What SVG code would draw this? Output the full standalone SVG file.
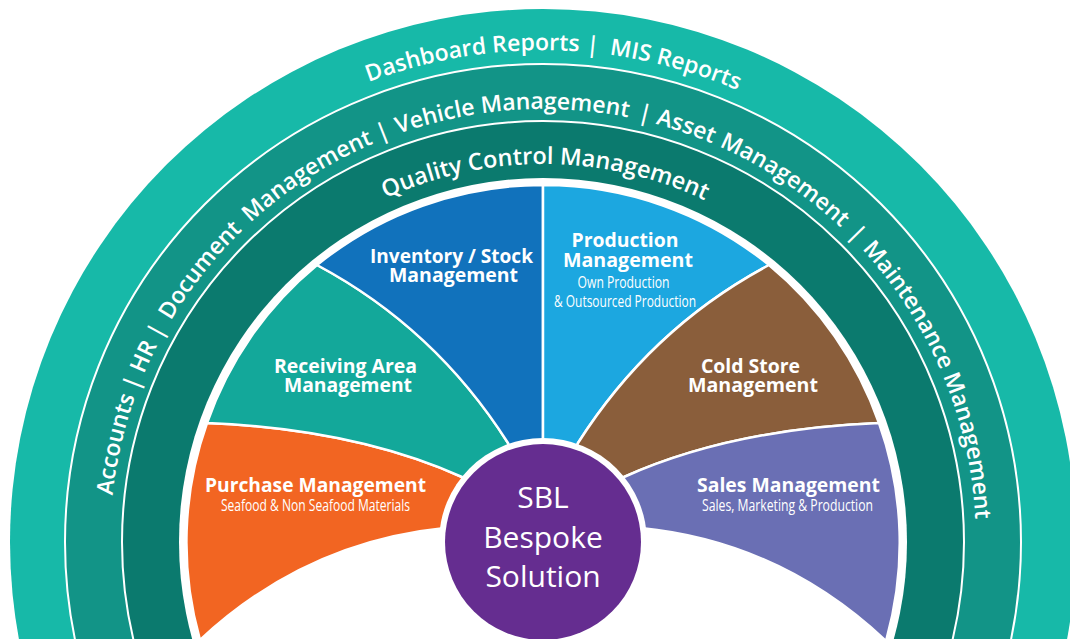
<svg xmlns="http://www.w3.org/2000/svg" width="1070" height="639" viewBox="0 0 1070 639">
<style>
  .ringtxt{font-family:"Open Sans","Noto Sans","DejaVu Sans",sans-serif;font-weight:600;fill:#fff;font-size:23px}
  .title{font-family:"Open Sans","Noto Sans","DejaVu Sans",sans-serif;font-weight:700;fill:#fff;text-anchor:middle;font-size:19.5px}
  .sub{font-weight:400;font-size:16px}
  .core{font-family:"Open Sans","Noto Sans","DejaVu Sans",sans-serif;font-weight:400;fill:#fff;text-anchor:middle;font-size:30px}
  .seg{stroke:#fff;stroke-width:2.5;stroke-linejoin:round}
</style>
<defs>
  <path id="arcOuter" d="M 51 542 A 492 492 0 0 1 1035 542"/>
  <path id="arcMid" d="M 110 542 A 433 433 0 0 1 976 542"/>
  <path id="arcInner" d="M 165 542 A 378 378 0 0 1 921 542"/>
</defs>
<rect width="1070" height="639" fill="#fff"/>
<g id="ring-outer">
  <circle cx="543" cy="542" r="533" fill="#17B9A8"/>
  <text class="ringtxt"><textPath href="#arcOuter" startOffset="701.6" text-anchor="middle">Dashboard Reports</textPath></text>
  <text class="ringtxt"><textPath href="#arcOuter" startOffset="821.8" text-anchor="middle">|</textPath></text>
  <text class="ringtxt"><textPath href="#arcOuter" startOffset="905.9" text-anchor="middle">MIS Reports</textPath></text>
</g>
<g id="ring-middle">
  <circle cx="543" cy="542" r="478" fill="#129487" stroke="#fff" stroke-width="2"/>
  <text class="ringtxt"><textPath href="#arcMid" startOffset="97.5" text-anchor="middle">Accounts</textPath></text>
  <text class="ringtxt"><textPath href="#arcMid" startOffset="188.2" text-anchor="middle">| HR |</textPath></text>
  <text class="ringtxt"><textPath href="#arcMid" startOffset="290.2" text-anchor="middle">Document</textPath></text>
  <text class="ringtxt"><textPath href="#arcMid" startOffset="432.3" text-anchor="middle">Management</textPath></text>
  <text class="ringtxt"><textPath href="#arcMid" startOffset="518.4" text-anchor="middle">|</textPath></text>
  <text class="ringtxt"><textPath href="#arcMid" startOffset="649.2" text-anchor="middle">Vehicle Management</textPath></text>
  <text class="ringtxt"><textPath href="#arcMid" startOffset="781.4" text-anchor="middle">|</textPath></text>
  <text class="ringtxt"><textPath href="#arcMid" startOffset="823.7" text-anchor="middle">Asset</textPath></text>
  <text class="ringtxt"><textPath href="#arcMid" startOffset="934.8" text-anchor="middle">Management</textPath></text>
  <text class="ringtxt"><textPath href="#arcMid" startOffset="1024" text-anchor="middle">|</textPath></text>
  <text class="ringtxt"><textPath href="#arcMid" startOffset="1110.9" text-anchor="middle">Maintenance</textPath></text>
  <text class="ringtxt"><textPath href="#arcMid" startOffset="1263.5" text-anchor="middle">Management</textPath></text>
</g>
<g id="ring-inner">
  <circle cx="543" cy="542" r="421" fill="#0B7A6E" stroke="#fff" stroke-width="2"/>
  <circle cx="543" cy="542" r="364" fill="#fff"/>
  <text class="ringtxt" style="font-size:23.5px"><textPath href="#arcInner" startOffset="50.2%" text-anchor="middle">Quality Control Management</textPath></text>
</g>
<g id="purchase">
  <path class="seg" fill="#F26522" d="M 207 423 Q 355 429 462 477 L 543 542 L 445 528 Q 305 542 200 640 A 357 357 0 0 1 207 423 Z"/>
  <text class="title"><tspan x="315.5" y="492" textLength="221" lengthAdjust="spacingAndGlyphs">Purchase Management</tspan><tspan class="sub" x="315.5" y="511" textLength="189" lengthAdjust="spacingAndGlyphs">Seafood &amp; Non Seafood Materials</tspan></text>
</g>
<g id="receiving">
  <path class="seg" fill="#13A89A" d="M 317 265 Q 435 328 508 443 L 543 542 L 462 477 Q 355 429 207 423 A 357 357 0 0 1 317 265 Z"/>
  <text class="title"><tspan x="345.5" y="373" textLength="143" lengthAdjust="spacingAndGlyphs">Receiving Area</tspan><tspan x="348" y="392" textLength="128" lengthAdjust="spacingAndGlyphs">Management</tspan></text>
</g>
<g id="inventory">
  <path class="seg" fill="#1172BC" d="M 543 185 L 543 542 L 508 443 Q 435 328 317 265 A 357 357 0 0 1 543 185 Z"/>
  <text class="title"><tspan x="451.5" y="263" textLength="163" lengthAdjust="spacingAndGlyphs">Inventory / Stock</tspan><tspan x="453.5" y="282" textLength="129" lengthAdjust="spacingAndGlyphs">Management</tspan></text>
</g>
<g id="production">
  <path class="seg" fill="#1CA7E0" d="M 543 185 A 357 357 0 0 1 769 265 Q 651 328 578 443 L 543 542 Z"/>
  <text class="title"><tspan x="625" y="247" textLength="107" lengthAdjust="spacingAndGlyphs">Production</tspan><tspan x="628" y="267" textLength="130" lengthAdjust="spacingAndGlyphs">Management</tspan><tspan class="sub" x="623.5" y="288" textLength="92" lengthAdjust="spacingAndGlyphs">Own Production</tspan><tspan class="sub" x="625" y="307" textLength="142" lengthAdjust="spacingAndGlyphs">&amp; Outsourced Production</tspan></text>
</g>
<g id="coldstore">
  <path class="seg" fill="#8A5E3B" d="M 769 265 A 357 357 0 0 1 879 423 Q 731 429 624 477 L 543 542 L 578 443 Q 651 328 769 265 Z"/>
  <text class="title"><tspan x="750.5" y="373" textLength="99" lengthAdjust="spacingAndGlyphs">Cold Store</tspan><tspan x="753" y="392" textLength="130" lengthAdjust="spacingAndGlyphs">Management</tspan></text>
</g>
<g id="sales">
  <path class="seg" fill="#6A6FB4" d="M 879 423 A 357 357 0 0 1 886 641 Q 781 542 641 528 L 543 542 L 624 477 Q 731 429 879 423 Z"/>
  <text class="title"><tspan x="788.5" y="492" textLength="183" lengthAdjust="spacingAndGlyphs">Sales Management</tspan><tspan class="sub" x="787.5" y="511" textLength="171" lengthAdjust="spacingAndGlyphs">Sales, Marketing &amp; Production</tspan></text>
</g>
<g id="core">
  <circle cx="543" cy="542" r="104" fill="#fff"/>
  <circle cx="543" cy="542" r="98" fill="#652D90"/>
  <text class="core"><tspan x="543" y="508">SBL</tspan><tspan x="543" y="548">Bespoke</tspan><tspan x="543" y="587">Solution</tspan></text>
</g>
</svg>
